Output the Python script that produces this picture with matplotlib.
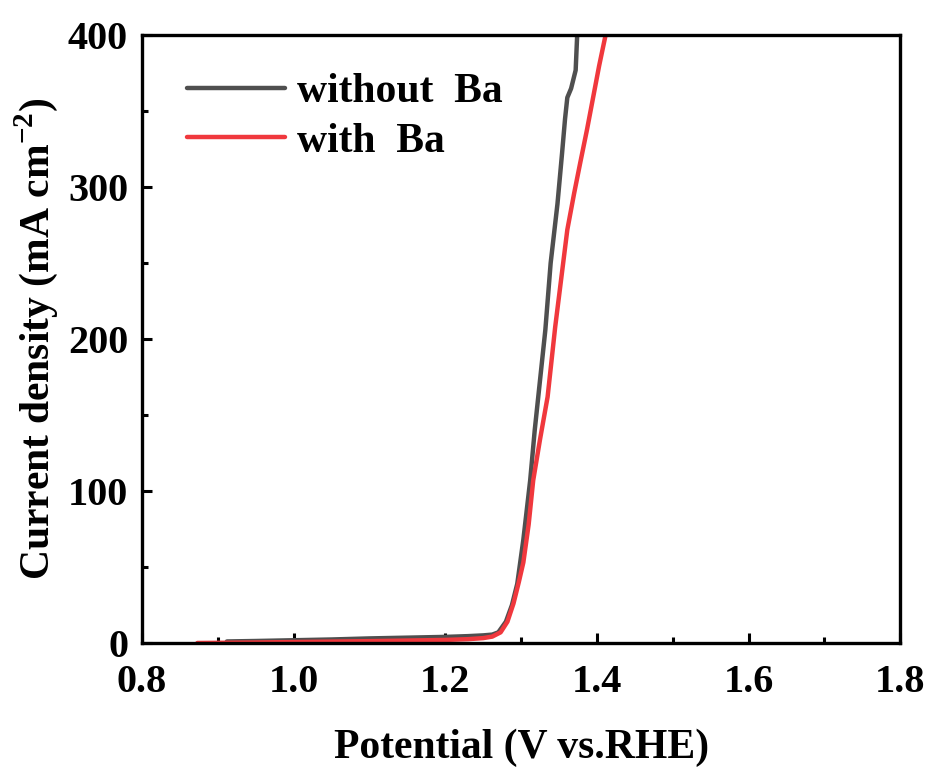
import matplotlib
matplotlib.use("Agg")
import matplotlib.pyplot as plt
from matplotlib.ticker import MultipleLocator

plt.rcParams['font.family'] = ['Liberation Serif', 'DejaVu Serif']
plt.rcParams['font.weight'] = 'bold'
plt.rcParams['mathtext.fontset'] = 'custom'
plt.rcParams['mathtext.rm'] = 'Liberation Serif:bold'
plt.rcParams['mathtext.bf'] = 'Liberation Serif:bold'

# without Ba
v_without = [0.912, 0.95, 1.00, 1.05, 1.10, 1.15, 1.20, 1.23, 1.25, 1.262, 1.270, 1.280,
             1.288, 1.295, 1.303, 1.312, 1.318, 1.325, 1.332, 1.339, 1.348, 1.354,
             1.358, 1.361, 1.366, 1.372, 1.374]
j_without = [1.0, 1.3, 1.8, 2.3, 3.0, 3.5, 4.0, 4.5, 5.0, 5.5, 7.0, 14,
             25, 39, 68, 107, 140, 173, 206, 250, 289, 322,
             345, 359, 365, 377, 400]

# with Ba
v_with = [0.873, 0.95, 1.00, 1.05, 1.10, 1.15, 1.20, 1.23, 1.25, 1.262, 1.273, 1.282,
          1.290, 1.297, 1.303, 1.310, 1.316, 1.325, 1.335, 1.345, 1.353, 1.361,
          1.370, 1.378, 1.387, 1.395, 1.403, 1.411]
j_with = [0.0, 0.3, 0.6, 0.9, 1.2, 1.6, 2.0, 2.5, 3.2, 4.2, 7.0, 14,
          26, 40, 53, 78, 107, 134, 162, 208, 240, 272,
          296, 316, 338, 359, 380, 399]

fig = plt.figure(figsize=(9.28, 7.67), dpi=100)
ax = fig.add_axes([0.153, 0.1617, 0.817, 0.7923])

ax.plot(v_without, j_without, color='#4f4f4f', lw=3.2, label='without  Ba', solid_capstyle='round')
ax.plot(v_with, j_with, color='#f0383d', lw=3.2, label='with  Ba', solid_capstyle='round')

ax.set_xlim(0.8, 1.8)
ax.set_ylim(0, 400)
ax.xaxis.set_major_locator(MultipleLocator(0.2))
ax.xaxis.set_minor_locator(MultipleLocator(0.1))
ax.yaxis.set_major_locator(MultipleLocator(100))
ax.yaxis.set_minor_locator(MultipleLocator(50))
ax.set_xticks([0.8, 1.0, 1.2, 1.4, 1.6, 1.8])
ax.set_xticklabels(['0.8', '1.0', '1.2', '1.4', '1.6', '1.8'])

ax.tick_params(which='both', direction='in', top=False, right=False, width=2.2, labelsize=29)
ax.tick_params(which='major', length=7)
ax.tick_params(which='minor', length=4)
ax.tick_params(axis='x', which='major', pad=15)
ax.tick_params(axis='y', which='major', pad=10)
for s in ax.spines.values():
    s.set_linewidth(2.4)

ax.set_xlabel('Potential (V vs.RHE)', fontsize=30, fontweight='bold', labelpad=20)
ax.set_ylabel(r'Current density (mA cm$^{-2}$)', fontsize=30, fontweight='bold', labelpad=6)

leg = ax.legend(loc='upper left', frameon=False, fontsize=30, handlelength=2.35,
                handletextpad=0.3, labelspacing=0.27, borderaxespad=0.0,
                bbox_to_anchor=(0.037, 0.965))
for t in leg.get_texts():
    t.set_fontweight('bold')

fig.savefig('out.png', dpi=100)
